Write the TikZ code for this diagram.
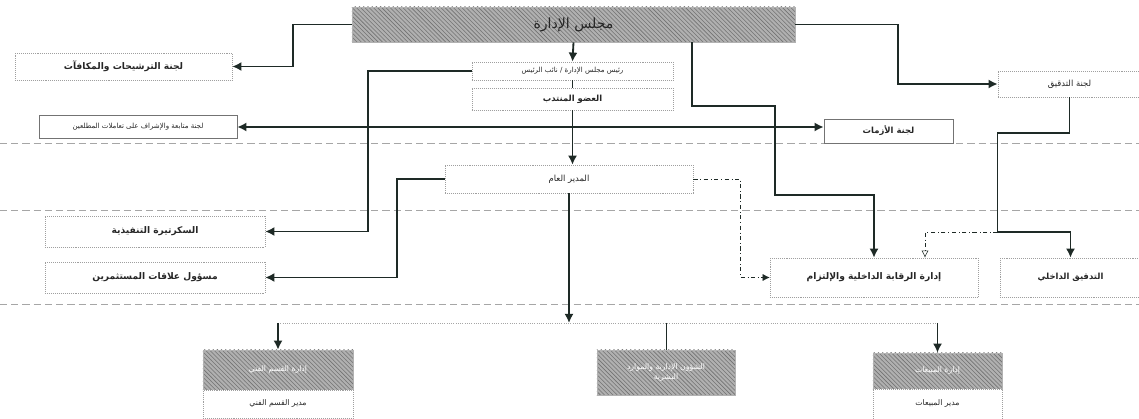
\documentclass[tikz,border=0pt]{standalone}
\usepackage{fontspec}
\newfontfamily\arabicfont[Script=Arabic]{DejaVu Sans}
\TeXXeTstate=1
\usetikzlibrary{arrows.meta,calc,patterns}
\newcommand{\artext}[1]{{\arabicfont\beginR #1\endR}}
\definecolor{linecol}{RGB}{30,42,38}

\tikzset{
	wbox/.style={draw=gray!75, densely dotted, fill=white, inner sep=0pt, text=black!85, font=\fontsize{6.5}{8}\selectfont\bfseries},
	sbox/.style={draw=gray!90!black, thin, fill=white, inner sep=0pt, text=black!85, font=\fontsize{5}{6}\selectfont},
	gbox/.style={draw=gray!60, preaction={fill=gray!62}, pattern=north west lines, pattern color=black!55, inner sep=0pt, text=white, align=center, font=\fontsize{5.5}{7}\selectfont},
	conn/.style={draw=linecol, line width=1.3pt, -{Latex[length=6.5pt,width=6.5pt]}},
	sep/.style={gray!70, dashed, dash pattern=on 5pt off 3pt, line width=0.6pt},
	ddline/.style={draw=linecol, dash dot, thin}
}

\begin{document}
\begin{tikzpicture}[x=0.025cm,y=-0.025cm]
	\useasboundingbox (0,0) rectangle (1139,419);
	%========
	%Separators
	%========
	\draw[sep] (0,143) -- (1139,143);	%Board level
	\draw[sep] (0,210) -- (1139,210);	%GM level
	\draw[sep] (0,304) -- (1139,304);	%Departments

	%========
	%Board and committees
	%========
	\node[gbox, minimum width=11.075cm, minimum height=0.875cm, text=black!85, font=\fontsize{10}{12}\selectfont] (board) at (573.5,24.5) {\artext{مجلس الإدارة}};
	\node[wbox, minimum width=5.425cm, minimum height=0.675cm] (nomin) at (123.5,66.5) {\artext{لجنة الترشيحات والمكافآت}};
	\node[wbox, minimum width=3.575cm, minimum height=0.65cm, font=\fontsize{6}{7}\selectfont] (audcom) at (1069.5,84) {\artext{لجنة التدقيق}};
	\node[wbox, minimum width=5.025cm, minimum height=0.45cm, font=\fontsize{5}{6}\selectfont] (chair) at (572.5,71) {\artext{رئيس مجلس الإدارة / نائب الرئيس}};
	\node[wbox, minimum width=5.025cm, minimum height=0.55cm, font=\fontsize{6}{7}\selectfont\bfseries] (md) at (572.5,99) {\artext{العضو المنتدب}};
	\node[sbox, minimum width=4.95cm, minimum height=0.575cm] (insider) at (138,127) {\artext{لجنة متابعة والإشراف على تعاملات المطلعين}};
	\node[sbox, minimum width=3.225cm, minimum height=0.6cm, font=\fontsize{6}{7}\selectfont\bfseries] (crisis) at (888.5,131) {\artext{لجنة الأزمات}};

	%========
	%Executive level
	%========
	\node[wbox, minimum width=6.2cm, minimum height=0.7cm, font=\fontsize{6}{7}\selectfont] (gm) at (569,179) {\artext{المدير العام}};
	\node[wbox, minimum width=5.5cm, minimum height=0.775cm] (secr) at (155,231.5) {\artext{السكرتيرة التنفيذية}};
	\node[wbox, minimum width=5.5cm, minimum height=0.775cm] (invrel) at (155,277.5) {\artext{مسؤول علاقات المستثمرين}};
	\node[wbox, minimum width=5.2cm, minimum height=0.975cm] (intctrl) at (874,277.5) {\artext{إدارة الرقابة الداخلية والإلتزام}};
	\node[wbox, minimum width=3.525cm, minimum height=0.975cm, font=\fontsize{6}{7}\selectfont\bfseries] (intaud) at (1070.5,277.5) {\artext{التدقيق الداخلي}};

	%========
	%Departments
	%========
	\node[gbox, minimum width=3.75cm, minimum height=1.0cm] (tech) at (278,370) {\artext{إدارة القسم الفني}};
	\node[wbox, minimum width=3.75cm, minimum height=0.7cm, font=\fontsize{5.5}{7}\selectfont] (techmgr) at (278,404) {\artext{مدير القسم الفني}};
	\node[gbox, minimum width=3.45cm, minimum height=1.125cm] (admin) at (666,372.5) {\artext{الشؤون الإدارية والموارد}\\\artext{البشرية}};
	\node[gbox, minimum width=3.225cm, minimum height=0.9cm] (sales) at (937.5,371) {\artext{إدارة المبيعات}};
	\node[wbox, minimum width=3.225cm, minimum height=0.75cm, font=\fontsize{5.5}{7}\selectfont] (salesmgr) at (937.5,404) {\artext{مدير المبيعات}};

	%========
	%Connectors
	%========
	\draw[conn] (board.west) -- ++(-59,0) |- (nomin.east);	%Nominations
	\draw[conn] (board.east) -- ++(103,0) |- (audcom.west);	%Audit committee
	\draw[conn] (board.south) -- (chair.north);
	\draw[linecol, thin] (chair.south) -- (md.north);
	\draw[conn] (md.south) -- (md.south |- gm.north);
	\draw[conn] (chair.west) -- ++(-104,0) |- (secr.east);	%Secretary
	\draw[draw=linecol, line width=1.3pt, {Latex[length=6.5pt,width=6.5pt]}-{Latex[length=6.5pt,width=6.5pt]}] (insider.east) -- (insider.east -| crisis.west);
	\draw[conn] ($(board.south)+(118.5,0)$) -- ++(0,64) -- ++(83,0) -- ++(0,89) -| (intctrl.north);	%Compliance
	\draw[conn] (audcom.south) -- ++(0,36) -- ++(-72,0) -- ++(0,99) coordinate (audturn) -| (intaud.north);
	\draw[ddline, -{Latex[length=5pt,width=5pt,open]}] (audturn) -| ($(intctrl.north)+(51,0)$);
	\draw[ddline, -{Latex[length=5pt,width=5pt]}] (gm.east) -- ++(47,0) |- (intctrl.west);
	\draw[conn] (gm.west) -- ++(-48,0) |- (invrel.east);	%Investor relations

	\coordinate (bus) at (569,323);
	\draw[conn] (gm.south) -- (bus);
	\draw[gray!70, densely dotted, semithick] (tech.north |- bus) -- (sales.north |- bus);
	\draw[conn] (tech.north |- bus) -- (tech.north);
	\draw[linecol, thin] (admin.north |- bus) -- (admin.north);
	\draw[conn] (sales.north |- bus) -- (sales.north);
\end{tikzpicture}
\end{document}
